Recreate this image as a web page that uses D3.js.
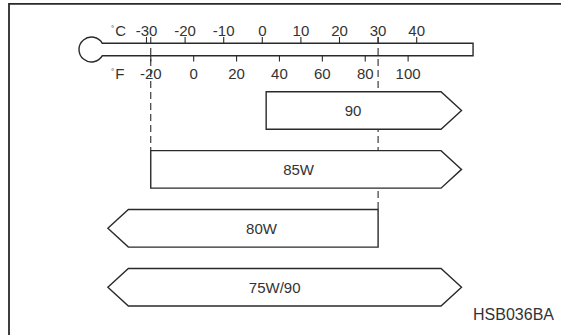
<!DOCTYPE html>
<html>
<head>
<meta charset="utf-8">
<script src="https://cdn.jsdelivr.net/npm/d3@7/dist/d3.min.js"></script>
<style>
  body { margin: 0; background: #fff; }
  text { font-family: "Liberation Sans", Arial, sans-serif; fill: #333; }
</style>
</head>
<body>
<div id="chart"></div>
<script>
// gear oil grades and the temperature range (deg C) each one covers,
// null means the range is open on that side (drawn as an arrow head)
var grades   = ["90", "85W", "80W", "75W/90"];
var minTemp  = [1, -28.9, null, null];
var maxTemp  = [null, null, 30, null];
var labelAt  = [23.5, 9.4, -0.2, 3.2];

// thermometer tick labels
var celsiusTicks    = [-30, -20, -10, 0, 10, 20, 30, 40];
var fahrenheitTicks = [-20, 0, 20, 40, 60, 80, 100];

// the two reference lines dropped from the thermometer
var guideTemps  = [-28.9, 30];
var guideGrades = ["85W", "80W"];

var figureCode = "HSB036BA";

var width = 561, height = 335;
var ink = "#2a2a2a";

var svg = d3.select("#chart").append("svg")
    .attr("width", width)
    .attr("height", height);

// one linear celsius scale drives everything, fahrenheit is converted
var x = d3.scaleLinear().domain([0, 40]).range([262.3, 416.7]);
function f2c(f) { return (f - 32) * 5 / 9; }

var y = d3.scaleBand().domain(grades).range([91.7, 306]).paddingInner(0.363).paddingOuter(0);

// frame (only top and left edges are in view)
svg.append("path")
    .attr("d", "M9," + height + "V3.8H" + width)
    .attr("fill", "none")
    .attr("stroke", ink)
    .attr("stroke-width", 1.8);

// thermometer geometry
var tubeTop = 43.3, tubeBottom = 55.7, tubeMid = (tubeTop + tubeBottom) / 2;
var tubeEnd = x(54.6);
var bulbR = 12.5, bulbX = 91.5;

// dashed guides first so the boxes cover them
guideTemps.forEach(function(t, i) {
  svg.append("line")
      .attr("x1", x(t)).attr("x2", x(t))
      .attr("y1", 37).attr("y2", y(guideGrades[i]))
      .attr("stroke", ink)
      .attr("stroke-width", 1.1)
      .attr("stroke-dasharray", "7,4");
});

var dy = (tubeBottom - tubeTop) / 2;
var theta = Math.asin(dy / bulbR);
var p = d3.path();
p.moveTo(tubeEnd, tubeTop);
p.lineTo(bulbX + Math.cos(theta) * bulbR, tubeTop);
p.arc(bulbX, tubeMid, bulbR, -theta, theta, true);
p.lineTo(tubeEnd, tubeBottom);
p.closePath();
svg.append("path")
    .attr("d", p.toString())
    .attr("fill", "none")
    .attr("stroke", ink)
    .attr("stroke-width", 1.4);

// celsius ticks on top
svg.selectAll(".ctick").data(celsiusTicks).enter().append("line")
    .attr("class", "ctick")
    .attr("x1", function(d) { return x(d); })
    .attr("x2", function(d) { return x(d); })
    .attr("y1", 37).attr("y2", tubeTop)
    .attr("stroke", ink).attr("stroke-width", 1.1);

svg.selectAll(".clabel").data(celsiusTicks).enter().append("text")
    .attr("class", "clabel")
    .attr("x", function(d) { return x(d); })
    .attr("y", 35.5)
    .attr("text-anchor", "middle")
    .style("font-size", "15px")
    .text(function(d) { return d; });

// fahrenheit ticks underneath
svg.selectAll(".ftick").data(fahrenheitTicks).enter().append("line")
    .attr("class", "ftick")
    .attr("x1", function(d) { return x(f2c(d)); })
    .attr("x2", function(d) { return x(f2c(d)); })
    .attr("y1", tubeBottom).attr("y2", 61.5)
    .attr("stroke", ink).attr("stroke-width", 1.1);

svg.selectAll(".flabel").data(fahrenheitTicks).enter().append("text")
    .attr("class", "flabel")
    .attr("x", function(d) { return x(f2c(d)); })
    .attr("y", 79)
    .attr("text-anchor", "middle")
    .style("font-size", "15px")
    .text(function(d) { return d; });

// unit labels
[["C", 35.5], ["F", 79]].forEach(function(u) {
  var t = svg.append("text").attr("x", 111).attr("y", u[1]).style("font-size", "15px");
  t.append("tspan").attr("dy", -5).style("font-size", "8px").text("\u00b0");
  t.append("tspan").attr("dy", 5).attr("dx", 1).text(u[0]);
});

// grade boxes, open ends become arrow heads
var arrow = 20.5;
var openLow = x(-34.7), openHigh = x(46.3);

function boxPoints(i) {
  var top = y(grades[i]), bot = top + y.bandwidth(), mid = (top + bot) / 2;
  var x0 = minTemp[i] === null ? openLow : x(minTemp[i]);
  var x1 = maxTemp[i] === null ? openHigh : x(maxTemp[i]);
  var pts = [[x0, top], [x1, top]];
  if (maxTemp[i] === null) pts.push([x1 + arrow, mid]);
  pts.push([x1, bot], [x0, bot]);
  if (minTemp[i] === null) pts.push([x0 - arrow, mid]);
  return pts;
}

var boxes = svg.selectAll(".grade").data(grades).enter().append("g")
    .attr("class", "grade");

boxes.append("polygon")
    .attr("points", function(d, i) { return boxPoints(i).join(" "); })
    .attr("fill", "#fff")
    .attr("stroke", ink)
    .attr("stroke-width", 1.4);

boxes.append("text")
    .attr("x", function(d, i) { return x(labelAt[i]); })
    .attr("y", function(d) { return y(d) + y.bandwidth() / 2 + 5.3; })
    .attr("text-anchor", "middle")
    .style("font-size", "15px")
    .text(function(d) { return d; });

svg.append("text")
    .attr("x", 554).attr("y", 320)
    .attr("text-anchor", "end")
    .style("font-size", "16px")
    .text(figureCode);
</script>
</body>
</html>
